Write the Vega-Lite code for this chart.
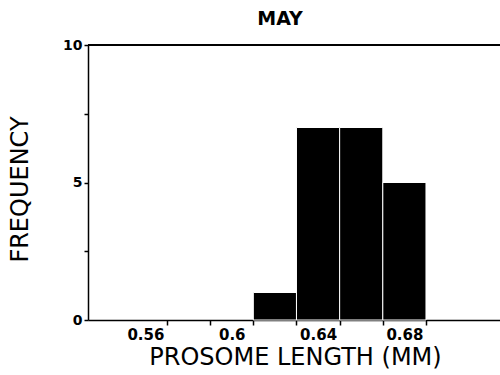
{
  "$schema": "https://vega.github.io/schema/vega-lite/v6.json",
  "autosize": "none",
  "width": 412,
  "height": 275,
  "padding": {"left": 88, "top": 45, "right": 0, "bottom": 55},
  "background": "white",
  "config": {"view": {"stroke": null}},
  "title": {
    "text": "MAY",
    "anchor": "middle",
    "frame": "group",
    "dx": -14,
    "dy": 23,
    "offset": 17,
    "baseline": "alphabetic",
    "font": "DejaVu Sans",
    "fontSize": 19,
    "fontWeight": "bold",
    "color": "black"
  },
  "data": {
    "values": [
      {"start": 0.61, "end": 0.63, "count": 1},
      {"start": 0.63, "end": 0.65, "count": 7},
      {"start": 0.65, "end": 0.67, "count": 7},
      {"start": 0.67, "end": 0.69, "count": 5}
    ]
  },
  "layer": [
    {
      "mark": {"type": "bar", "color": "black", "stroke": "white", "strokeWidth": 1},
      "encoding": {
        "x": {
          "field": "start",
          "type": "quantitative",
          "scale": {"domain": [0.5334, 0.7243], "nice": false, "zero": false},
          "axis": {
            "title": "PROSOME LENGTH (MM)",
            "values": [0.56, 0.57, 0.59, 0.6, 0.61, 0.63, 0.64, 0.65, 0.67, 0.68, 0.69],
            "labelExpr": "round(datum.value*100) % 4 == 0 ? toString(round(datum.value*100)/100) : ''",
            "tickOpacity": {"expr": "round(datum.value*100) % 2 == 1 ? 1 : 0"},
            "grid": false,
            "domainColor": "black",
            "domainWidth": 1.5,
            "tickColor": "black",
            "tickWidth": 1.5,
            "tickSize": 5,
            "labelPadding": 2,
            "labelFont": "DejaVu Sans",
            "labelFontWeight": "bold",
            "labelFontSize": 15,
            "labelColor": "black",
            "labelFlush": false,
            "labelOverlap": false,
            "titleFont": "DejaVu Sans",
            "titleFontWeight": "normal",
            "titleFontSize": 24,
            "titleColor": "black",
            "titleX": 207,
            "titleY": 44,
            "titleBaseline": "alphabetic",
            "titleAlign": "center"
          }
        },
        "x2": {"field": "end"},
        "y": {
          "field": "count",
          "type": "quantitative",
          "scale": {"domain": [0, 10], "nice": false},
          "axis": {
            "title": "FREQUENCY",
            "values": [0, 2.5, 5, 7.5, 10],
            "labelExpr": "datum.value % 5 == 0 ? toString(datum.value) : ''",
            "grid": false,
            "domainColor": "black",
            "domainWidth": 1.5,
            "tickColor": "black",
            "tickWidth": 1.5,
            "tickSize": 4,
            "labelPadding": 2,
            "labelFont": "DejaVu Sans",
            "labelFontWeight": "bold",
            "labelFontSize": 14,
            "labelColor": "black",
            "labelFlush": false,
            "labelOverlap": false,
            "titleFont": "DejaVu Sans",
            "titleFontWeight": "normal",
            "titleFontSize": 24,
            "titleColor": "black",
            "titleX": -61,
            "titleY": 144,
            "titleAngle": -90,
            "titleBaseline": "alphabetic",
            "titleAlign": "center"
          }
        },
        "y2": {"datum": 0}
      }
    },
    {
      "mark": {"type": "rule", "color": "black", "strokeWidth": 1.5},
      "encoding": {"y": {"datum": 10, "type": "quantitative"}}
    }
  ]
}
